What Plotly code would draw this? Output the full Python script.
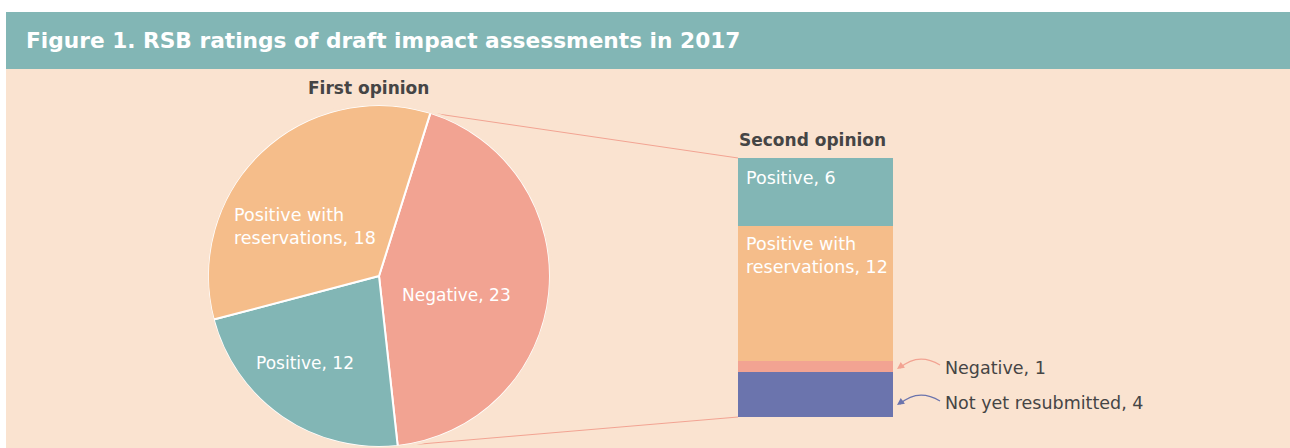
import math
import plotly.graph_objects as go

# first opinion (pie), clockwise from the top
first_labels = ["Negative", "Positive", "Positive with reservations"]
first_values = [23, 12, 18]

# second opinion (stacked bar), bottom to top
second_labels = ["Not yet resubmitted", "Negative", "Positive with reservations", "Positive"]
second_values = [4, 1, 12, 6]

colors = {
    "Positive": "#82B6B5",
    "Positive with reservations": "#F5BD8A",
    "Negative": "#F2A392",
    "Not yet resubmitted": "#6B74AD",
}

W, H = 1290, 448
PEACH = "#FAE3D0"
TEAL = "#82B6B5"
DARK = "#454545"
FONT = "DejaVu Sans"


def px(x):
    return x / W


def py(y):
    return 1 - y / H


# pie placement (screen pixels)
cx, cy, r = 379, 276, 171
rotation = 17.5

fig = go.Figure()

fig.add_trace(go.Pie(
    labels=first_labels,
    values=first_values,
    sort=False,
    direction="clockwise",
    rotation=rotation,
    marker=dict(colors=[colors[l] for l in first_labels], line=dict(color="white", width=2)),
    textinfo="none",
    hoverinfo="label+value",
    domain=dict(x=[px(cx - r), px(cx + r)], y=[py(cy + r), py(cy - r)]),
    showlegend=False,
))

for lab, val in zip(second_labels, second_values):
    fig.add_trace(go.Bar(
        x=["Second opinion"],
        y=[val],
        name=lab,
        width=1,
        marker=dict(color=colors[lab], line=dict(width=0)),
        hoverinfo="name+y",
        showlegend=False,
    ))

total2 = sum(second_values)
bar_left, bar_right, bar_top, bar_bottom = 738, 893, 158, 417

fig.update_layout(
    width=W, height=H,
    margin=dict(l=0, r=0, t=0, b=0),
    paper_bgcolor="white",
    plot_bgcolor="rgba(0,0,0,0)",
    barmode="stack",
    bargap=0,
    xaxis=dict(domain=[px(bar_left), px(bar_right)], range=[-0.5, 0.5], visible=False, fixedrange=True),
    yaxis=dict(domain=[py(bar_bottom), py(bar_top)], range=[0, total2], visible=False, fixedrange=True),
    font=dict(family=FONT, color=DARK),
)

shapes = [
    dict(type="rect", xref="paper", yref="paper", x0=px(6), x1=1, y0=0, y1=py(69),
         fillcolor=PEACH, line=dict(width=0), layer="below"),
    dict(type="rect", xref="paper", yref="paper", x0=px(6), x1=1, y0=py(69), y1=py(12),
         fillcolor=TEAL, line=dict(width=0), layer="below"),
    # hide the white outline on the outer rim of the pie
    dict(type="circle", xref="paper", yref="paper", x0=px(cx - r - 1), x1=px(cx + r + 1),
         y0=py(cy + r + 1), y1=py(cy - r - 1), line=dict(color=PEACH, width=2.5), layer="above"),
]

# connector lines from the Negative slice edges to the bar
neg_start = math.radians(rotation)
neg_end = math.radians(rotation + 360 * first_values[0] / sum(first_values))
for ang, by in [(neg_start, total2), (neg_end, 0)]:
    x0 = cx + r * math.sin(ang)
    y0 = cy - r * math.cos(ang)
    y1 = py(bar_bottom) + (py(bar_top) - py(bar_bottom)) * by / total2
    shapes.append(dict(type="line", xref="paper", yref="paper", x0=px(x0), y0=py(y0),
                       x1=px(bar_left), y1=y1, line=dict(color="#F2A392", width=1), layer="below"))

# curved arrows to the small segments
arrows = [("Negative", 365, 352, 368), ("Not yet resubmitted", 401, 388, 404)]
annotations = []
for lab, sy, cyy, ey in arrows:
    path = "M {} {} Q {} {} {} {}".format(px(940), py(sy), px(918), py(cyy), px(900), py(ey))
    shapes.append(dict(type="path", xref="paper", yref="paper", path=path,
                       line=dict(color=colors[lab], width=1.3)))
    annotations.append(dict(xref="paper", yref="paper", x=px(897), y=py(ey + 1), text="",
                            showarrow=True, arrowhead=2, arrowsize=1.1, arrowwidth=1.3,
                            arrowcolor=colors[lab], ax=7, ay=-5))

fig.update_layout(shapes=shapes)


def txt(text, x, y, size=17, color="white", bold=False, xanchor="left", **kw):
    if bold:
        text = "<b>" + text + "</b>"
    d = dict(xref="paper", yref="paper", x=px(x), y=py(y), text=text, showarrow=False,
             xanchor=xanchor, yanchor="middle", align=xanchor if xanchor != "center" else "center",
             font=dict(size=size, color=color, family=FONT))
    d.update(kw)
    return d


annotations += [
    txt("Figure 1. RSB ratings of draft impact assessments in 2017", 24, 41, size=21.7, bold=True),
    txt("First opinion", 368, 88, size=17, color=DARK, bold=True, xanchor="center"),
    txt("Second opinion", 812, 140, size=17, color=DARK, bold=True, xanchor="center"),
    txt("Negative, {}".format(first_values[0]), 456, 295, size=17, xanchor="center"),
    txt("Positive, {}".format(first_values[1]), 305, 363, size=17, xanchor="center"),
    txt("Positive with<br>reservations, {}".format(first_values[2]), 232, 226, size=17.5),
    txt("Positive, {}".format(second_values[3]), 744, 178, size=17.5),
    txt("Positive with<br>reservations, {}".format(second_values[2]), 744, 255, size=17.5),
    txt("Negative, {}".format(second_values[1]), 943, 368, size=17.5, color=DARK),
    txt("Not yet resubmitted, {}".format(second_values[0]), 943, 403, size=17.5, color=DARK),
]

fig.update_layout(annotations=annotations)

# drop the default page margin so the figure sits at the window's top-left corner
fig.write_html("out.html", config={"displayModeBar": False},
               post_script="document.body.style.margin='0';document.body.style.overflow='hidden';")
